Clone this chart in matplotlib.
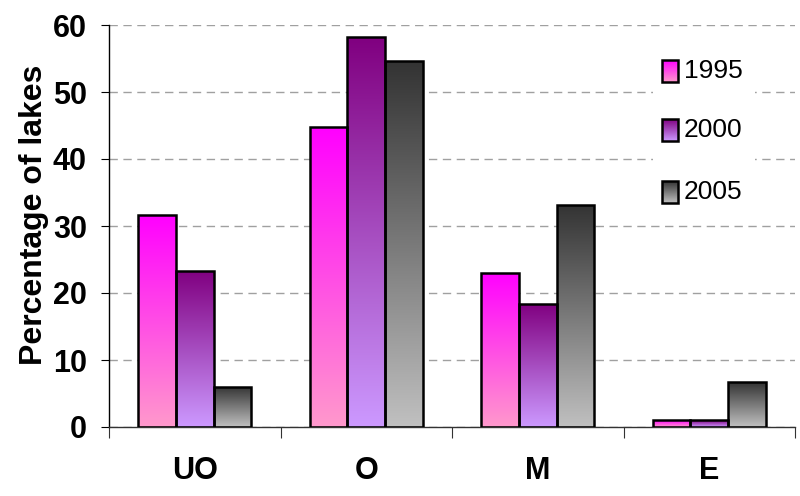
import numpy as np
import matplotlib
matplotlib.use('Agg')
import matplotlib.pyplot as plt
from matplotlib.colors import LinearSegmentedColormap
from matplotlib.patches import Rectangle

# Lake categories and share of lakes (%) per survey year
categories = ['UO', 'O', 'M', 'E']
years = ['1995', '2000', '2005']
pct_1995 = [31.7, 44.8, 23.0, 1.0]
pct_2000 = [23.3, 58.2, 18.4, 1.0]
pct_2005 = [6.0, 54.6, 33.2, 6.7]
series = [pct_1995, pct_2000, pct_2005]

# (bottom colour, top colour) of each series' vertical gradient
gradients = [('#FF99CC', '#FF00FF'),
             ('#CC99FF', '#800080'),
             ('#C0C0C0', '#333333')]

FONT = ['Liberation Sans', 'DejaVu Sans']

fig = plt.figure(figsize=(8, 4.96), dpi=100)
ax = fig.add_axes([109 / 800, 69 / 496, 686 / 800, 402 / 496])

grad = np.linspace(0, 1, 256).reshape(-1, 1)
x = np.arange(len(categories))
width = 0.22

for i, vals in enumerate(series):
    cmap = LinearSegmentedColormap.from_list(f'g{i}', gradients[i])
    bars = ax.bar(x + (i - 1) * width, vals, width, facecolor='none',
                  edgecolor='black', linewidth=1.8, zorder=3)
    for b in bars:
        bx, by = b.get_xy()
        im = ax.imshow(grad, extent=[bx, bx + b.get_width(), by, by + b.get_height()],
                       origin='lower', cmap=cmap, aspect='auto', zorder=2)
        im.set_clip_path(b)

# legend: white box over the grid with gradient swatches
ax.add_patch(Rectangle((0.793, 0.527), 0.149, 0.448, transform=ax.transAxes,
                       facecolor='white', edgecolor='none', zorder=1.5))
legend_y = [0.885, 0.738, 0.584]
for i, (yr, ly) in enumerate(zip(years, legend_y)):
    cmap = LinearSegmentedColormap.from_list(f'l{i}', gradients[i])
    sw = Rectangle((0.806, ly - 0.027), 0.023, 0.054, transform=ax.transAxes,
                   facecolor='none', edgecolor='black', linewidth=1.8, zorder=4)
    ax.add_patch(sw)
    im = ax.imshow(grad, extent=[0.806, 0.829, ly - 0.027, ly + 0.027],
                   origin='lower', cmap=cmap, aspect='auto', zorder=3.5,
                   transform=ax.transAxes)
    im.set_clip_path(sw)
    ax.text(0.838, ly, yr, transform=ax.transAxes, fontsize=19,
            family=FONT, va='center', ha='left', zorder=4)

ax.set_xlim(-0.5, 3.5)
ax.set_ylim(0, 60)
ax.set_yticks(range(0, 61, 10))
ax.yaxis.grid(True, color='#A0A0A0', linestyle=(0, (6, 4)), linewidth=1)
ax.set_axisbelow(True)

ax.set_xticks(np.arange(-0.5, 3.6, 1.0))
ax.set_xticklabels([])
ax.set_xticks(x, minor=True)
ax.set_xticklabels(categories, minor=True, fontsize=22, fontweight='bold', family=FONT)
ax.tick_params(axis='x', which='major', length=8, direction='out', color='#333333')
ax.tick_params(axis='x', which='minor', length=0, pad=21)
ax.tick_params(axis='y', length=6, direction='out', pad=10)
for lbl in ax.get_yticklabels():
    lbl.set_fontsize(22)
    lbl.set_fontweight('bold')
    lbl.set_family(FONT)

for s in ['top', 'right']:
    ax.spines[s].set_visible(False)
ax.spines['left'].set_linewidth(1)
ax.spines['bottom'].set_linewidth(1)
ax.spines['bottom'].set_color('#333333')

fig.text(0.043, 0.567, 'Percentage of lakes', rotation=90, fontsize=23,
         fontweight='bold', family=FONT, ha='center', va='center')

fig.savefig('out.png', dpi=100)
